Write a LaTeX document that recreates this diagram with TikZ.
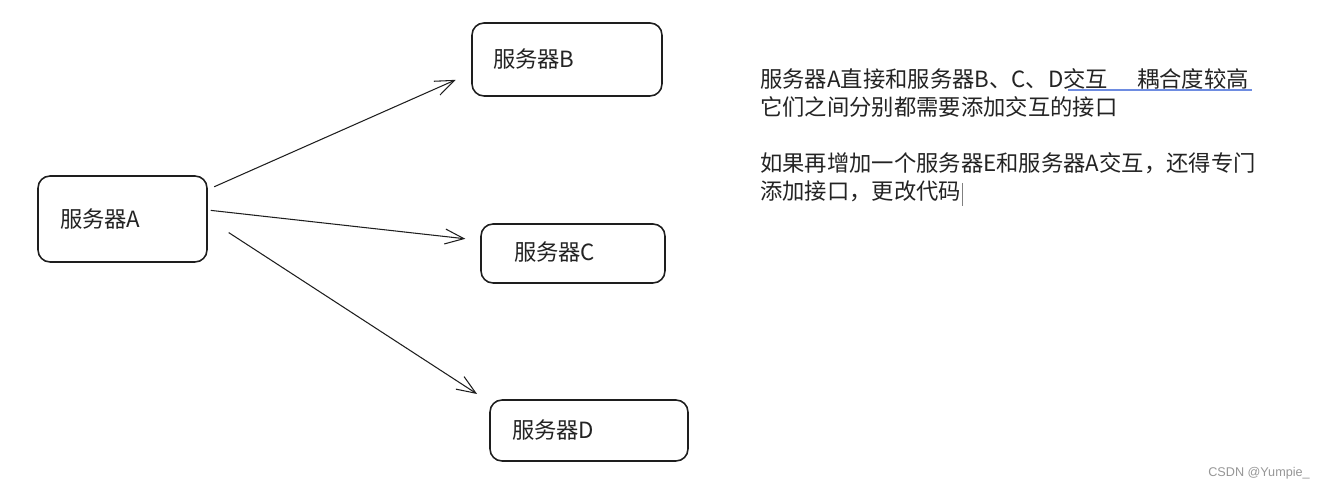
\documentclass[tikz,border=0pt]{standalone}
\usepackage{fontspec}
\setmainfont{Noto Sans CJK SC}
\newfontfamily\markfont{Liberation Sans}
\usetikzlibrary{arrows.meta, positioning}
\definecolor{inkline}{RGB}{30,30,30}
\definecolor{notetext}{RGB}{35,35,35}
\definecolor{spellblue}{RGB}{110,140,225}
\definecolor{markgray}{RGB}{150,150,150}
\tikzset{
    server/.style={
        rectangle, rounded corners=0.24cm, draw=inkline, line width=0.9pt,
        fill=white, align=left, inner ysep=0pt,
        font=\fontsize{12.7}{15.9}\selectfont, text=notetext
    },
    link/.style={draw=inkline, line width=0.6pt,
        -{Straight Barb[length=0.38cm, width=0.3cm]}},
    note/.style={align=left, inner sep=0pt, text=notetext,
        font=\fontsize{12.7}{15.9}\selectfont},
    watermark/.style={font=\markfont\fontsize{7.2}{8}\selectfont, text=markgray}
}

\begin{document}
\begin{tikzpicture}[x=0.02cm, y=0.02cm]
\useasboundingbox (0,0) rectangle (1335,-492);

% Servers
\node[server, minimum width=3.38cm, minimum height=1.72cm, text width=2.5cm, inner xsep=0.44cm] (srvA) at (122.5,-219) {服务器A};
\node[server, minimum width=3.8cm, minimum height=1.46cm, text width=2.96cm, inner xsep=0.42cm] (srvB) at (567,-59.5) {服务器B};
\node[server, minimum width=3.68cm, minimum height=1.18cm, text width=2.36cm, inner xsep=0.66cm] (srvC) at (573,-253.5) {\raisebox{2.8pt}{服务器C}};
\node[server, minimum width=3.96cm, minimum height=1.22cm, text width=3.08cm, inner xsep=0.44cm] (srvD) at (589,-430.5) {服务器D};

% Connections
\draw[link, shorten <=0.14cm, shorten >=0.34cm] (srvA.19) -- (srvB.188);
\draw[link, shorten <=0.06cm, shorten >=0.3cm] (srvA.6) -- (srvC.172);
\draw[link, shorten <=0.5cm, shorten >=0.29cm] (srvA.east) -- (srvD.164);

% Notes
\node[note, anchor=north west] (remark) at (760,-68) {服务器A直接和服务器B、C、D交互\hspace{1.3em}耦合度较高\\
它们之间分别都需要添加交互的接口\\[15.9pt]
如果再增加一个服务器E和服务器A交互，还得专门\\
添加接口，更改代码};
\coordinate (squigL) at (1068,-90);
\coordinate (squigR) at (1252,-90);
\draw[spellblue, line width=0.8pt] (squigL) -- (squigR);
\coordinate (cursorT) at (962,-183);
\coordinate (cursorB) at (962,-206);
\draw[gray, line width=0.5pt] (cursorT) -- (cursorB);

% Watermark
\node[watermark] (mark) at (1259,-473) {CSDN @Yumpie\_};

\end{tikzpicture}
\end{document}
